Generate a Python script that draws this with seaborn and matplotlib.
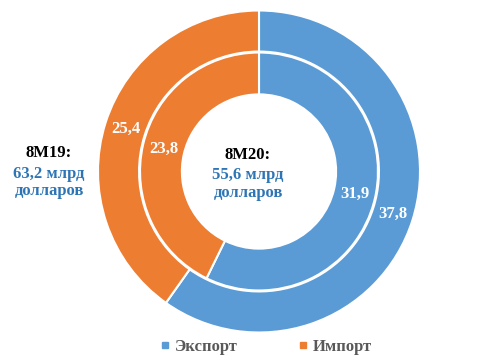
import matplotlib
matplotlib.use("Agg")
import matplotlib.pyplot as plt
import seaborn as sns
from matplotlib.lines import Line2D

# Data
categories = ["Экспорт", "Импорт"]
values_8m19 = [37.8, 25.4]   # outer ring
values_8m20 = [31.9, 23.8]   # inner ring
total_8m19 = "63,2"
total_8m20 = "55,6"

colors = ["#5B9BD5", "#ED7D31"]
text_blue = "#2E75B6"


def fmt(v):
    return f"{v:.1f}".replace(".", ",")


def main():
    sns.set_theme(style="white")
    plt.rcParams["font.family"] = ["Liberation Serif", "DejaVu Serif"]

    fig = plt.figure(figsize=(4.94, 3.61), dpi=100)
    W, H = 494, 361
    cx, cy, R = 259, 189.5, 161
    ax = fig.add_axes([(cx - R) / W, (cy - R) / H, 2 * R / W, 2 * R / H])

    fs = 12
    label_style = dict(color="white", fontsize=fs, fontweight="bold")

    # outer ring: 8M19
    wedges, texts = ax.pie(values_8m19, labels=[fmt(v) for v in values_8m19],
                           colors=colors, radius=1.0, startangle=90, counterclock=False,
                           labeldistance=0.87, textprops=label_style,
                           wedgeprops=dict(width=0.255, edgecolor="white", linewidth=1.5))
    for t in texts:
        t.set_ha("center")

    # inner ring: 8M20
    wedges2, texts2 = ax.pie(values_8m20, labels=[fmt(v) for v in values_8m20],
                             colors=colors, radius=0.739, startangle=90, counterclock=False,
                             labeldistance=0.824, textprops=label_style,
                             wedgeprops=dict(width=0.26, edgecolor="white", linewidth=1.5))
    for t in texts2:
        t.set_ha("center")

    ax.set_xlim(-1, 1)
    ax.set_ylim(-1, 1)
    ax.axis("off")

    # center annotation
    ax.text(-0.068, 0.10, "8M20:", ha="center", va="center",
            fontsize=fs, fontweight="bold", color="black")
    ax.text(-0.068, -0.078, f"{total_8m20} млрд\nдолларов", ha="center", va="center",
            fontsize=fs, fontweight="bold", color=text_blue, linespacing=1.1)

    # left annotation
    ax.text(-1.304, 0.115, "8M19:", ha="center", va="center",
            fontsize=fs, fontweight="bold", color="black")
    ax.text(-1.304, -0.068, f"{total_8m19} млрд\nдолларов", ha="center", va="center",
            fontsize=fs, fontweight="bold", color=text_blue, linespacing=1.1)

    handles = [Line2D([], [], marker="s", linestyle="none", markersize=5,
                      markerfacecolor=c, markeredgecolor=c) for c in colors]
    leg = fig.legend(handles, categories, loc="center", bbox_to_anchor=(266 / W, 1 - 347 / H),
                     ncol=2, frameon=False, handlelength=0.6, handletextpad=0.3,
                     columnspacing=3.6, prop=dict(size=fs, weight="bold"))
    for t in leg.get_texts():
        t.set_color("#595959")

    fig.savefig("out.png", dpi=100)


if __name__ == "__main__":
    main()
